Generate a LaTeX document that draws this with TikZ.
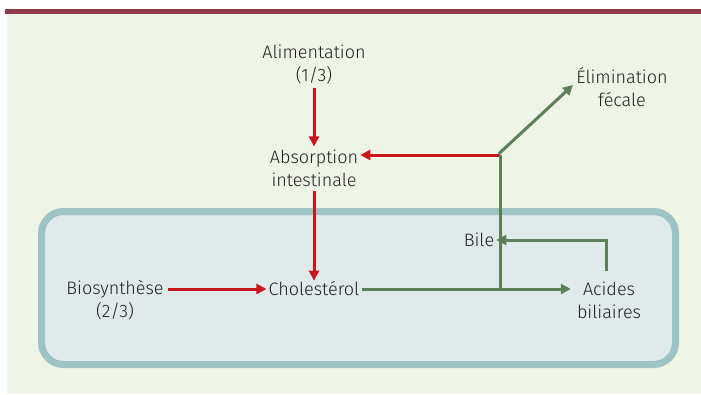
\documentclass[tikz,border=0pt]{standalone}
\usepackage{fontspec}
\setmainfont{Fira Sans Light}[BoldFont=Fira Sans]
\usetikzlibrary{arrows.meta, positioning, calc}
\definecolor{barred}{RGB}{142, 58, 74}
\definecolor{paper}{RGB}{238, 244, 230}
\definecolor{cellfill}{RGB}{224, 234, 234}
\definecolor{cellline}{RGB}{157, 195, 197}
\definecolor{flowred}{RGB}{200, 22, 30}
\definecolor{flowgreen}{RGB}{94, 127, 90}
\definecolor{textdark}{RGB}{35, 31, 32}
\begin{document}
\begin{tikzpicture}[x=1pt, y=-1pt,
    lbl/.style={align=center, font=\fontsize{18}{23}\selectfont, text=textdark, inner sep=2pt},
    redarr/.style={-{Triangle[length=10pt, width=10pt]}, line width=3pt, flowred},
    greenarr/.style={-{Triangle[length=10pt, width=10pt]}, line width=3pt, flowgreen},
    greenline/.style={line width=3pt, flowgreen}
  ]
    \useasboundingbox (0,0) rectangle (701,394);
    % background and top bar
    \fill[paper] (7,14) rectangle (701,394);
    \fill[barred] (5,9) rectangle (701,14);
    % cell
    \draw[line width=7pt, cellline, fill=cellfill, rounded corners=22pt]
      (41.5,211.5) rectangle (675.5,364.5);
    % labels
    \node[lbl] (alim) at (314,64) {Alimentation\\(1/3)};
    \node[lbl] (absorp) at (314,168) {Absorption\\intestinale};
    \node[lbl] (chol) at (314,289) {Cholestérol};
    \node[lbl] (bios) at (115,300) {Biosynthèse\\(2/3)};
    \node[lbl] (acides) at (609,300) {Acides\\biliaires};
    \node[lbl] (elim) at (622,87) {Élimination\\fécale};
    \node[lbl] (bile) at (479,240) {Bile};
    \coordinate (junction) at (500,155);
    \coordinate (split) at (500,289);
    % red flows
    \draw[redarr] (alim.south) ++(0,2) -- ($(absorp.north)+(0,-1)$);
    \draw[redarr] (absorp.south) ++(0,2) -- ($(chol.north)+(0,1)$);
    \draw[redarr] (bios.east |- chol) ++(2,0) -- (chol.west);
    \draw[redarr] (junction) -- (junction -| absorp.east);
    % green flows
    \draw[greenarr] (chol.east) -- ($(acides.west |- chol)+(-4,0)$);
    \draw[greenline] (split) -- (junction);
    \draw[greenarr] ([xshift=-1.2pt, yshift=1.2pt]junction) -- (573,85);
    \draw[greenarr] (606,271) |- (bile.east);
  \end{tikzpicture}
\end{document}
